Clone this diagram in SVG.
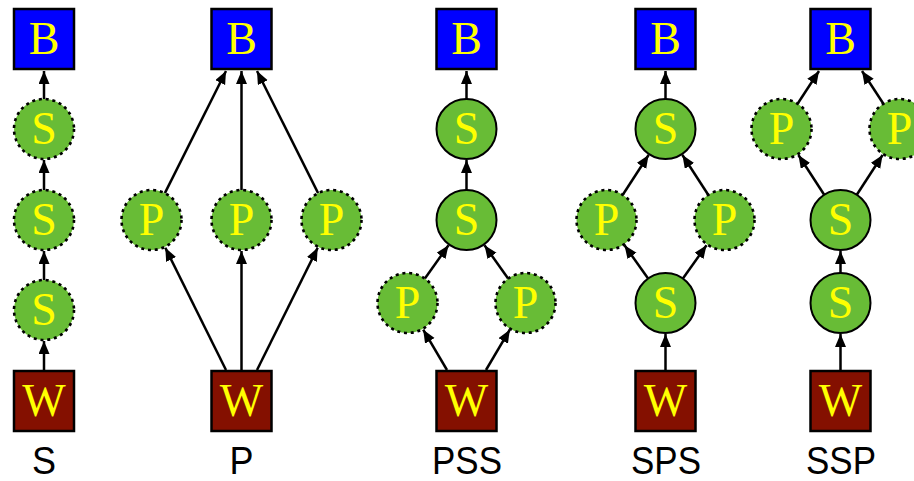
<svg xmlns="http://www.w3.org/2000/svg" width="914" height="481" viewBox="0 0 914 481">
  <style>
    .bg { fill: #ffffff; }
    .box { stroke: #000; stroke-width: 2.5; }
    .boss { fill: #0000ff; }
    .work { fill: #841000; }
    .node { fill: #68bc36; stroke: #000; stroke-width: 2; }
    .dotted { stroke-width: 2.6; stroke-dasharray: 3 3.8; }
    .glyph { font-family: "Liberation Serif", "Times New Roman", serif; font-size: 46px; fill: #ffff00; text-anchor: middle; }
    .edge { stroke: #000; stroke-width: 2.5; fill: none; marker-end: url(#arrow); }
    .caption { font-family: "Liberation Sans", Arial, sans-serif; font-size: 39px; fill: #000; text-anchor: middle; }
  </style>
  <defs>
    <marker id="arrow" markerUnits="userSpaceOnUse" markerWidth="14" markerHeight="12" refX="13" refY="5.5" orient="auto">
      <path d="M0,0 L13,5.5 L0,11 z" fill="#000"/>
    </marker>
  </defs>
  <rect class="bg" x="0" y="0" width="914" height="481"/>

  <!-- connectors -->
  <g id="edges">
    <!-- S -->
    <line class="edge" x1="44" y1="370" x2="44" y2="341"/>
    <line class="edge" x1="44" y1="280" x2="44" y2="251"/>
    <line class="edge" x1="44" y1="190" x2="44" y2="160"/>
    <line class="edge" x1="44" y1="99" x2="44" y2="71"/>
    <!-- P -->
    <line class="edge" x1="226" y1="370" x2="165.3" y2="247.8"/>
    <line class="edge" x1="241.5" y1="370" x2="241.5" y2="251"/>
    <line class="edge" x1="257" y1="370" x2="317.7" y2="247.8"/>
    <line class="edge" x1="164.9" y1="193.1" x2="226" y2="71"/>
    <line class="edge" x1="241.5" y1="190" x2="241.5" y2="71"/>
    <line class="edge" x1="318.1" y1="193.1" x2="257" y2="71"/>
    <!-- PSS -->
    <line class="edge" x1="466.5" y1="99" x2="466.5" y2="71"/>
    <line class="edge" x1="466.5" y1="190" x2="466.5" y2="160"/>
    <line class="edge" x1="424.9" y1="278.5" x2="448.5" y2="245.3"/>
    <line class="edge" x1="508.1" y1="278.5" x2="484.5" y2="245.3"/>
    <line class="edge" x1="447" y1="370" x2="423.2" y2="329.7"/>
    <line class="edge" x1="486" y1="370" x2="509.8" y2="329.7"/>
    <!-- SPS -->
    <line class="edge" x1="665.5" y1="99" x2="665.5" y2="71"/>
    <line class="edge" x1="622.8" y1="194.8" x2="648.6" y2="155"/>
    <line class="edge" x1="708.2" y1="194.8" x2="682.4" y2="155"/>
    <line class="edge" x1="648.1" y1="278.5" x2="624.5" y2="245.3"/>
    <line class="edge" x1="682.9" y1="278.5" x2="706.5" y2="245.3"/>
    <line class="edge" x1="665.5" y1="370" x2="665.5" y2="334"/>
    <!-- SSP -->
    <line class="edge" x1="840.5" y1="370" x2="840.5" y2="334"/>
    <line class="edge" x1="840.5" y1="273" x2="840.5" y2="251"/>
    <line class="edge" x1="824.2" y1="194.8" x2="798.4" y2="155"/>
    <line class="edge" x1="856.8" y1="194.8" x2="882.6" y2="155"/>
    <line class="edge" x1="797.6" y1="103.7" x2="819" y2="71"/>
    <line class="edge" x1="883.4" y1="103.7" x2="862" y2="71"/>
  </g>

  <!-- S: serial chain -->
  <g id="s-boss"><rect class="box boss" x="14" y="9" width="60" height="60"/><text class="glyph" x="44" y="54">B</text></g>
  <g id="s-stage1"><circle class="node dotted" cx="44" cy="129" r="30"/><text class="glyph" x="44" y="144">S</text></g>
  <g id="s-stage2"><circle class="node dotted" cx="44" cy="220" r="30"/><text class="glyph" x="44" y="235">S</text></g>
  <g id="s-stage3"><circle class="node dotted" cx="44" cy="310" r="30"/><text class="glyph" x="44" y="325">S</text></g>
  <g id="s-worker"><rect class="box work" x="14" y="371" width="60" height="60"/><text class="glyph" x="44" y="416">W</text></g>

  <!-- P: parallel fan -->
  <g id="p-boss"><rect class="box boss" x="211.5" y="9" width="60" height="60"/><text class="glyph" x="241.5" y="54">B</text></g>
  <g id="p-par1"><circle class="node dotted" cx="151.5" cy="220" r="30"/><text class="glyph" x="151.5" y="235">P</text></g>
  <g id="p-par2"><circle class="node dotted" cx="241.5" cy="220" r="30"/><text class="glyph" x="241.5" y="235">P</text></g>
  <g id="p-par3"><circle class="node dotted" cx="331.5" cy="220" r="30"/><text class="glyph" x="331.5" y="235">P</text></g>
  <g id="p-worker"><rect class="box work" x="211.5" y="371" width="60" height="60"/><text class="glyph" x="241.5" y="416">W</text></g>

  <!-- PSS -->
  <g id="pss-boss"><rect class="box boss" x="436.5" y="9" width="60" height="60"/><text class="glyph" x="466.5" y="54">B</text></g>
  <g id="pss-s1"><circle class="node" cx="466.5" cy="129" r="30"/><text class="glyph" x="466.5" y="144">S</text></g>
  <g id="pss-s2"><circle class="node" cx="466.5" cy="220" r="30"/><text class="glyph" x="466.5" y="235">S</text></g>
  <g id="pss-p1"><circle class="node dotted" cx="407.5" cy="303" r="30"/><text class="glyph" x="407.5" y="318">P</text></g>
  <g id="pss-p2"><circle class="node dotted" cx="525.5" cy="303" r="30"/><text class="glyph" x="525.5" y="318">P</text></g>
  <g id="pss-worker"><rect class="box work" x="436.5" y="371" width="60" height="60"/><text class="glyph" x="466.5" y="416">W</text></g>

  <!-- SPS -->
  <g id="sps-boss"><rect class="box boss" x="635.5" y="9" width="60" height="60"/><text class="glyph" x="665.5" y="54">B</text></g>
  <g id="sps-s1"><circle class="node" cx="665.5" cy="129" r="30"/><text class="glyph" x="665.5" y="144">S</text></g>
  <g id="sps-p1"><circle class="node dotted" cx="606.5" cy="220" r="30"/><text class="glyph" x="606.5" y="235">P</text></g>
  <g id="sps-p2"><circle class="node dotted" cx="724.5" cy="220" r="30"/><text class="glyph" x="724.5" y="235">P</text></g>
  <g id="sps-s2"><circle class="node" cx="665.5" cy="303" r="30"/><text class="glyph" x="665.5" y="318">S</text></g>
  <g id="sps-worker"><rect class="box work" x="635.5" y="371" width="60" height="60"/><text class="glyph" x="665.5" y="416">W</text></g>

  <!-- SSP -->
  <g id="ssp-boss"><rect class="box boss" x="810.5" y="9" width="60" height="60"/><text class="glyph" x="840.5" y="54">B</text></g>
  <g id="ssp-p1"><circle class="node dotted" cx="781.5" cy="129" r="30"/><text class="glyph" x="781.5" y="144">P</text></g>
  <g id="ssp-p2"><circle class="node dotted" cx="899.5" cy="129" r="30"/><text class="glyph" x="899.5" y="144">P</text></g>
  <g id="ssp-s1"><circle class="node" cx="840.5" cy="220" r="30"/><text class="glyph" x="840.5" y="235">S</text></g>
  <g id="ssp-s2"><circle class="node" cx="840.5" cy="303" r="30"/><text class="glyph" x="840.5" y="318">S</text></g>
  <g id="ssp-worker"><rect class="box work" x="810.5" y="371" width="60" height="60"/><text class="glyph" x="840.5" y="416">W</text></g>

  <!-- captions -->
  <g id="captions">
    <text class="caption" x="44" y="474" textLength="24" lengthAdjust="spacingAndGlyphs">S</text>
    <text class="caption" x="241.5" y="474" textLength="24" lengthAdjust="spacingAndGlyphs">P</text>
    <text class="caption" x="467" y="474" textLength="70" lengthAdjust="spacingAndGlyphs">PSS</text>
    <text class="caption" x="666" y="474" textLength="70" lengthAdjust="spacingAndGlyphs">SPS</text>
    <text class="caption" x="841" y="474" textLength="70" lengthAdjust="spacingAndGlyphs">SSP</text>
  </g>
</svg>
